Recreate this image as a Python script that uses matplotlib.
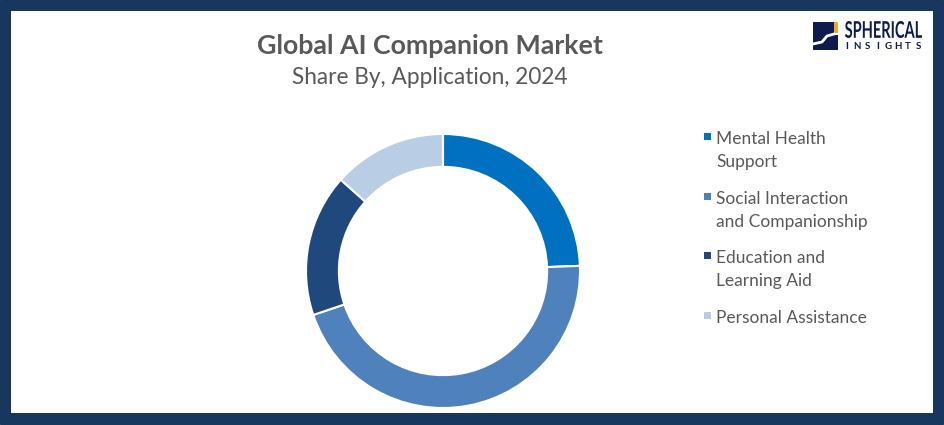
import matplotlib.pyplot as plt
from matplotlib.patches import FancyBboxPatch, Rectangle, PathPatch
from matplotlib.textpath import TextPath
from matplotlib.font_manager import FontProperties
from matplotlib.transforms import Affine2D

plt.rcParams['font.family'] = ['Lato', 'DejaVu Sans']

# 数据
labels = ['Mental Health\nSupport', 'Social Interaction\nand Companionship',
          'Education and\nLearning Aid', 'Personal Assistance']
shares = [24.4, 45.4, 16.8, 13.4]
colors = ['#0070C0', '#4F81BD', '#1F497D', '#B9CDE5']

W, H = 944, 425
fig = plt.figure(figsize=(W / 100, H / 100), dpi=100)
fig.patch.set_facecolor('white')

# 外框
bg = fig.add_axes([0, 0, 1, 1])
bg.set_xlim(0, W)
bg.set_ylim(H, 0)
bg.axis('off')
bg.add_patch(FancyBboxPatch((5, 5), W - 10, H - 10, boxstyle='round,pad=0,rounding_size=12',
                            facecolor='none', edgecolor='#17375E', linewidth=16))
bg.add_patch(Rectangle((11, 11), 922, 402, facecolor='white', edgecolor='none'))

# 标题
bg.text(430, 46, 'Global AI Companion Market', ha='center', va='center',
        fontsize=19.3, fontweight='bold', color='#595959')
bg.text(430, 77, 'Share By, Application, 2024', ha='center', va='center',
        fontsize=16.3, color='#595959')

# logo
navy = '#0F1A4F'
bg.add_patch(Rectangle((813, 22), 21, 28, facecolor=navy, edgecolor='none'))
bg.add_patch(Rectangle((834, 22), 4, 11, facecolor='#F5A623', edgecolor='none'))
bg.add_patch(Rectangle((834, 35), 4, 15, facecolor=navy, edgecolor='none'))
bg.plot([813, 822, 827, 834], [44, 42, 36, 34], color='white', lw=2)

fp = FontProperties(family='Lato', weight='bold')
tp = TextPath((0, 0), 'SPHERICAL', size=10, prop=fp)
ext = tp.get_extents()
sx = 77 / ext.width
sy = 17 / ext.height
tr = Affine2D().translate(-ext.x0, -ext.y0).scale(sx, -sy).translate(845, 38)
bg.add_patch(PathPatch(tr.transform_path(tp), facecolor=navy, edgecolor='none'))

letters = 'INSIGHTS'
for i, ch in enumerate(letters):
    bg.text(847 + i * 10.2, 46.5, ch, ha='center', va='center', fontsize=7,
            fontweight='bold', color=navy)

# 环形图
cx, cy, r = 443, 271, 137
ax = fig.add_axes([(cx - r) / W, (H - cy - r) / H, 2 * r / W, 2 * r / H])
ax.pie(shares, colors=colors, startangle=90, counterclock=False,
       wedgeprops=dict(width=0.24, edgecolor='white', linewidth=1.5))
ax.set_xlim(-1, 1)
ax.set_ylim(-1, 1)
ax.set_aspect('equal')
ax.axis('off')

# 图例
ys = [137, 197, 256, 316]
for lab, col, y in zip(labels, colors, ys):
    bg.add_patch(Rectangle((704, y - 4), 7, 7, facecolor=col, edgecolor='none'))
    bg.text(716, y - 6, lab, ha='left', va='top', fontsize=12.5, color='#595959',
            linespacing=1.52)

plt.savefig('out.png', dpi=100)
plt.close()
